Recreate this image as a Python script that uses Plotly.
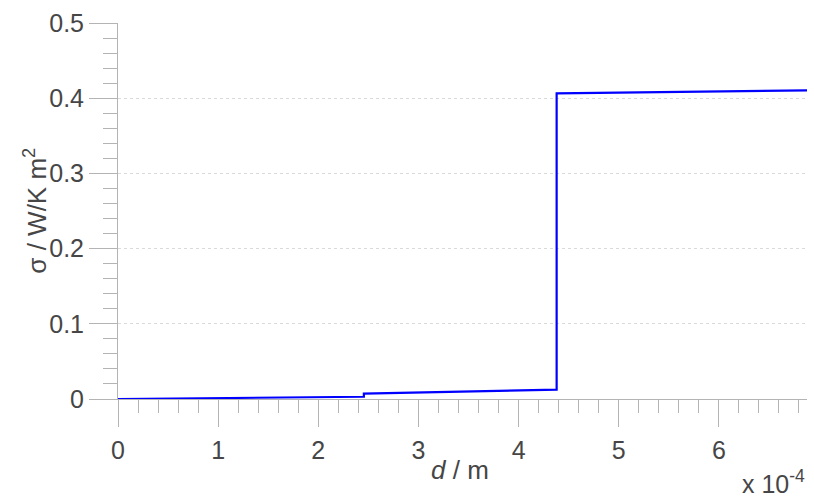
import plotly.graph_objects as go

# Conductance sigma versus thickness d (d stored in units of 1e-4 m)
d_e4 = [0.0, 2.455, 2.455, 4.38, 4.38, 6.88]
sigma = [0.0, 0.003, 0.0072, 0.0124, 0.4065, 0.4105]

x_ticks = [0, 1, 2, 3, 4, 5, 6]
y_ticks = [0, 0.1, 0.2, 0.3, 0.4, 0.5]

axis_grey = "#b4b4b4"
text_grey = "#464646"
font_family = "Liberation Sans, Arial, sans-serif"

fig = go.Figure()
fig.add_trace(go.Scatter(
    x=d_e4, y=sigma, mode="lines",
    line=dict(color="#0000ff", width=2.2),
    showlegend=False, hoverinfo="skip",
))

fig.update_layout(
    width=814, height=497,
    margin=dict(l=118, r=7, t=23, b=98),
    paper_bgcolor="white", plot_bgcolor="white",
    font=dict(family=font_family, size=25, color=text_grey),
    xaxis=dict(
        range=[0, 6.88], tickvals=x_ticks, ticktext=[str(v) for v in x_ticks],
        showline=True, linecolor=axis_grey, linewidth=1,
        ticks="outside", ticklen=27, tickcolor=axis_grey, tickwidth=1,
        minor=dict(dtick=0.2, ticks="outside", ticklen=13, tickcolor=axis_grey, tickwidth=1),
        showgrid=False, zeroline=False, ticklabelstandoff=2,
        tickfont=dict(size=25, color=text_grey),
    ),
    yaxis=dict(
        range=[0, 0.5], tickvals=y_ticks, ticktext=["0", "0.1", "0.2", "0.3", "0.4", "0.5"],
        showline=True, linecolor=axis_grey, linewidth=1,
        ticks="outside", ticklen=28, tickcolor=axis_grey, tickwidth=1,
        minor=dict(dtick=0.02, ticks="outside", ticklen=14, tickcolor=axis_grey, tickwidth=1),
        showgrid=True, gridcolor="#dadada", gridwidth=1, griddash="dot",
        zeroline=False,
        tickfont=dict(size=25, color=text_grey),
    ),
    annotations=[
        dict(
            text="σ / W/K m<sup>2</sup>", xref="paper", yref="paper",
            x=-0.121, y=0.5, xanchor="center", yanchor="middle", textangle=-90,
            showarrow=False, font=dict(size=26, color=text_grey),
        ),
        dict(
            text="<i>d</i> / m", xref="paper", yref="paper",
            x=0.497, y=-0.19, xanchor="center", yanchor="middle",
            showarrow=False, font=dict(size=26, color=text_grey),
        ),
        dict(
            text="x 10<sup>-4</sup>", xref="paper", yref="paper",
            x=1.0, y=-0.222, xanchor="right", yanchor="middle", showarrow=False,
            font=dict(size=25, color=text_grey),
        ),
    ],
)

fig.write_html("out.html")
